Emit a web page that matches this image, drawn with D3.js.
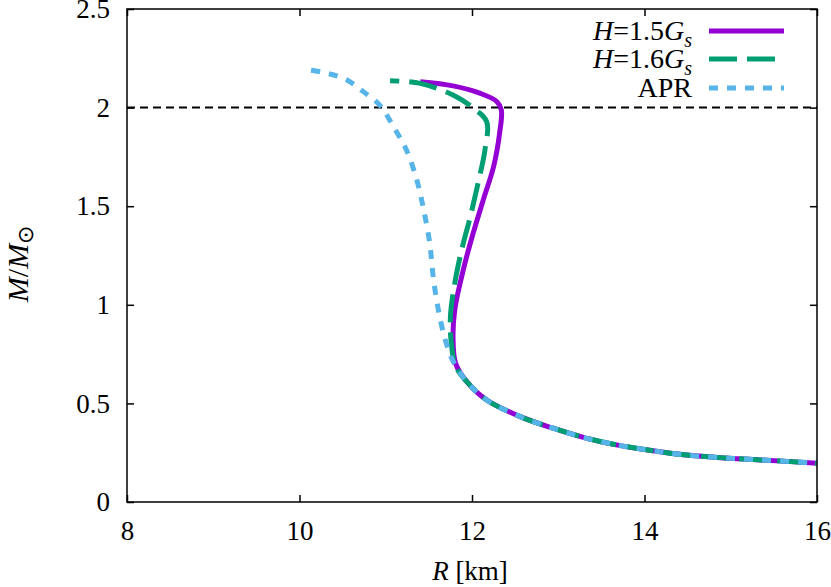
<!DOCTYPE html>
<html><head><meta charset="utf-8">
<script src="https://cdn.jsdelivr.net/npm/d3@7"></script>
<style>body{margin:0;background:#fff}svg{display:block}text{font-family:"Liberation Serif","Times New Roman",serif;fill:#000}</style>
</head><body><svg id="c" width="831" height="587"></svg>
<script>
// Data: [R (km), M/Msun]
const seriesNames = ["H=1.5Gs", "H=1.6Gs", "APR"];
const tail = [[11.94,0.610],[12.17,0.517],[12.56,0.433],[12.94,0.374],[13.33,0.323],[13.72,0.286],[14.10,0.260],[14.49,0.238],[14.88,0.225],[15.26,0.215],[15.65,0.206],[16.0,0.196],[16.3,0.189]];
const h15 = [[11.40,2.131],[11.78,2.110],[12.09,2.073],[12.29,2.030],[12.34,1.988],[12.32,1.870],[12.25,1.700],[12.13,1.531],[11.98,1.312],[11.88,1.143],[11.80,0.974],[11.78,0.838],[11.81,0.703]].concat(tail);
const h16 = [[11.05,2.136],[11.40,2.123],[11.78,2.064],[12.02,1.996],[12.17,1.929],[12.15,1.785],[12.07,1.616],[11.98,1.447],[11.88,1.278],[11.80,1.109],[11.75,0.940],[11.76,0.805],[11.81,0.690]].concat(tail);
const apr = [[10.06,2.194],[10.32,2.174],[10.55,2.140],[10.74,2.081],[10.93,2.013],[11.09,1.903],[11.24,1.785],[11.36,1.633],[11.44,1.481],[11.51,1.312],[11.55,1.143],[11.61,0.974],[11.69,0.822],[11.78,0.715]].concat(tail);
const xTicks = [8,10,12,14,16];
const yTicks = [0,0.5,1,1.5,2,2.5];
const yTickLabels = ["0","0.5","1","1.5","2","2.5"];
const refMass = 2.0;

const svg = d3.select("#c");
const L=127,R=817,T=9,B=502;
const x = d3.scaleLinear().domain([8,16]).range([L,R]);
const y = d3.scaleLinear().domain([0,2.5]).range([B,T]);

svg.append("clipPath").attr("id","clip").append("rect").attr("x",L).attr("y",T).attr("width",R-L).attr("height",B-T);
const g = svg.append("g").attr("clip-path","url(#clip)");

// reference line
g.append("line").attr("x1",x(8)).attr("x2",x(16)).attr("y1",y(refMass)).attr("y2",y(refMass))
 .attr("stroke","#000").attr("stroke-width",2).attr("stroke-dasharray","8,5");

const line = d3.line().x(d=>x(d[0])).y(d=>y(d[1])).curve(d3.curveCatmullRom.alpha(0.5));
const styles = [
  {data:h15, color:"#9400D3", width:5, dash:null},
  {data:h16, color:"#009E73", width:5, dash:"28,10"},
  {data:apr, color:"#56B4E9", width:5, dash:"9,9"}
];
styles.forEach(s=>{
  g.append("path").attr("d",line(s.data.slice().reverse())).attr("fill","none")
   .attr("stroke",s.color).attr("stroke-width",s.width).attr("stroke-dasharray",s.dash);
});

// frame
svg.append("rect").attr("x",L).attr("y",T).attr("width",R-L).attr("height",B-T)
 .attr("fill","none").attr("stroke","#000").attr("stroke-width",1.5);

// axes with inward ticks
const tl = 7;
const xb = svg.append("g").attr("transform",`translate(0,${B})`)
 .call(d3.axisBottom(x).tickValues(xTicks).tickSizeInner(-tl).tickSizeOuter(0).tickPadding(30));
const xt = svg.append("g").attr("transform",`translate(0,${T})`)
 .call(d3.axisTop(x).tickValues(xTicks).tickSizeInner(-tl).tickSizeOuter(0).tickFormat(""));
const yl = svg.append("g").attr("transform",`translate(${L},0)`)
 .call(d3.axisLeft(y).tickValues(yTicks).tickSizeInner(-tl).tickSizeOuter(0).tickPadding(17).tickFormat((d,i)=>yTickLabels[i]));
const yr = svg.append("g").attr("transform",`translate(${R},0)`)
 .call(d3.axisRight(y).tickValues(yTicks).tickSizeInner(-tl).tickSizeOuter(0).tickFormat(""));
[xb,xt,yl,yr].forEach(a=>{
  a.attr("font-family",null);
  a.select(".domain").remove();
  a.selectAll(".tick line").attr("stroke","#000").attr("stroke-width",1.5);
  a.selectAll("text").attr("font-size",27).attr("fill","#000");
});
xb.selectAll(".tick text").attr("dy",null).attr("y",38);

// axis titles
const xl = svg.append("text").attr("x",470).attr("y",580).attr("text-anchor","middle").attr("font-size",27);
xl.append("tspan").attr("font-style","italic").text("R");
xl.append("tspan").text(" [km]");

const ylab = svg.append("text").attr("transform","translate(28,264) rotate(-90)").attr("text-anchor","middle").attr("font-size",30);
ylab.append("tspan").attr("font-style","italic").text("M");
ylab.append("tspan").text("/");
ylab.append("tspan").attr("font-style","italic").text("M");
ylab.append("tspan").attr("font-size",22).attr("dy",5).text("\u2299");

// legend
const legY = [31,59,88];
const legLabels = [["H","=1.5","G","s"],["H","=1.6","G","s"],null];
styles.forEach((s,i)=>{
  svg.append("line").attr("x1",709).attr("x2",784).attr("y1",legY[i]).attr("y2",legY[i])
   .attr("stroke",s.color).attr("stroke-width",s.width).attr("stroke-dasharray",s.dash);
  const t = svg.append("text").attr("x",692).attr("y",legY[i]+9).attr("text-anchor","end").attr("font-size",28);
  const lab = legLabels[i];
  if(lab){
    t.append("tspan").attr("font-style","italic").text(lab[0]);
    t.append("tspan").text(lab[1]);
    t.append("tspan").attr("font-style","italic").text(lab[2]);
    t.append("tspan").attr("font-style","italic").attr("font-size",20).attr("dy",7).text(lab[3]);
  } else {
    t.text(seriesNames[i]);
  }
});
</script></body></html>
